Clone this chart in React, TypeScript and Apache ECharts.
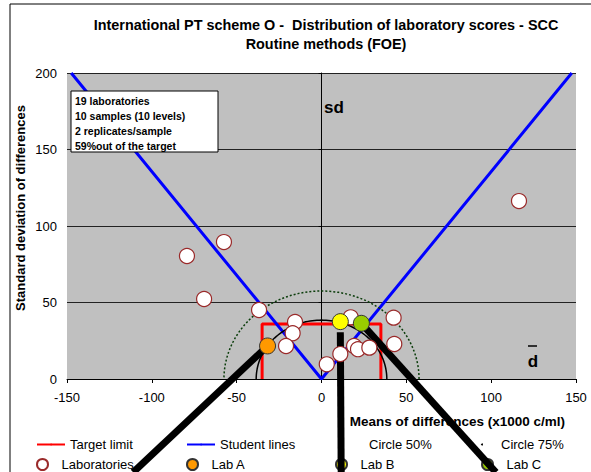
import React, { useEffect, useRef } from "react";
import * as echarts from "echarts";

// ---- data ----
const labX = [-79.3, -57.5, -69.2, -36.8, -15.6, -17.0, -20.9, 3.1, 11.1, 17.2, 19.2, 21.5, 28.2, 42.5, 42.9, 116.4];
const labY = [80.4, 89.5, 52.3, 45.1, 37.3, 29.9, 21.6, 9.6, 16.3, 40.3, 21.6, 19.5, 20.5, 40.1, 22.9, 116.3];
const labA = [-31.8, 21.6];
const labB = [11.1, 37.5];
const labC = [23.5, 36.4];
// callout line far ends (data units, outside the plot)
const calloutA = [-111, -61];
const calloutB = [11.6, -61];
const calloutC = [102.8, -61];
const targetX = 35;
const targetY = 36;
const studentX = [-147.5, 0, 147.5];
const studentY = [200, 0, 200];
const circle50R = 38.5;
const circle75R = 57.5;
const xTicks = [-150, -100, -50, 0, 50, 100, 150];
const yTicks = [0, 50, 100, 150, 200];
const infoLines = ["19 laboratories", "10 samples (10 levels)", "2 replicates/sample", "59%out of the target"];

const FONT = "'Liberation Sans', Arial, sans-serif";

function semicircle(r: number) {
  const pts: number[][] = [];
  for (let a = 0; a <= 180; a += 2) {
    const t = (a * Math.PI) / 180;
    pts.push([r * Math.cos(t), r * Math.sin(t)]);
  }
  return pts;
}

export default function App() {
  const ref = useRef<HTMLDivElement>(null);
  useEffect(() => {
    if (!ref.current) return;
    const chart = echarts.init(ref.current, null, { renderer: "svg" });
    const legendText = { fontFamily: FONT, fontSize: 13, color: "#000" };
    const mkLegend = (name: string, left: number, top: number, extra: any = {}) => ({
      left,
      top,
      orient: "horizontal",
      itemWidth: 28,
      itemHeight: extra.itemHeight ?? 2,
      itemGap: 5,
      selectedMode: false,
      textStyle: legendText,
      data: [Object.assign({ name }, extra.item || {})],
    });
    const option: any = {
      animation: false,
      backgroundColor: "#fff",
      title: {
        text: "International PT scheme O -  Distribution of laboratory scores - SCC\nRoutine methods (FOE)",
        left: 321,
        top: 10,
        textAlign: "center",
        textStyle: { fontFamily: FONT, fontSize: 14.4, fontWeight: "bold", lineHeight: 19, color: "#000" },
      },
      grid: {
        left: 67,
        right: 15,
        top: 73,
        bottom: 93,
        show: true,
        backgroundColor: "#C0C0C0",
        borderWidth: 0,
      },
      legend: [
        mkLegend("Target limit", 31, 433),
        mkLegend("Student lines", 181, 433),
        mkLegend("Circle 50%", 330, 433, { item: { lineStyle: { opacity: 0 }, itemStyle: { opacity: 0 } } }),
        mkLegend("Circle 75%", 476, 433, { item: { icon: "circle", itemStyle: { color: "#000" } } }),
        mkLegend("Laboratories", 31, 453, { itemHeight: 11, item: { icon: "circle" } }),
        mkLegend("Lab A", 181, 453, { itemHeight: 11, item: { icon: "circle" } }),
        mkLegend("Lab B", 330, 453, { itemHeight: 11, item: { icon: "circle" } }),
        mkLegend("Lab C", 476, 453, { itemHeight: 11, item: { icon: "circle" } }),
      ],
      xAxis: {
        type: "value",
        min: xTicks[0],
        max: xTicks[xTicks.length - 1],
        interval: 50,
        axisLine: { show: true, onZero: false, lineStyle: { color: "#000", width: 1 } },
        axisTick: { show: true, length: 4, lineStyle: { color: "#000" } },
        axisLabel: { fontFamily: FONT, fontSize: 13, color: "#000", margin: 12 },
        splitLine: { show: false },
      },
      yAxis: [
        {
          type: "value",
          min: yTicks[0],
          max: yTicks[yTicks.length - 1],
          interval: 50,
          axisLine: { show: false },
          axisTick: { show: false },
          axisLabel: { fontFamily: FONT, fontSize: 13, color: "#000", margin: 10 },
          splitLine: { show: true, lineStyle: { color: "#222", width: 1 } },
        },
        {
          type: "value",
          min: yTicks[0],
          max: yTicks[yTicks.length - 1],
          interval: 50,
          position: "left",
          offset: -254.5,
          axisLine: { show: true, onZero: false, lineStyle: { color: "#000", width: 1 } },
          axisTick: { show: true, length: 3, lineStyle: { color: "#000" } },
          axisLabel: { show: false },
          splitLine: { show: false },
        },
      ],
      series: [
        {
          name: "Target limit",
          type: "line",
          symbol: "none",
          z: 3,
          data: [[-targetX, 0], [-targetX, targetY], [targetX, targetY], [targetX, 0]],
          lineStyle: { color: "#FF0000", width: 3 },
          itemStyle: { color: "#FF0000" },
        },
        {
          name: "Student lines",
          type: "line",
          symbol: "none",
          z: 3,
          data: studentX.map((x, i) => [x, studentY[i]]),
          lineStyle: { color: "#0000FF", width: 3 },
          itemStyle: { color: "#0000FF" },
        },
        {
          name: "Circle 50%",
          type: "line",
          symbol: "none",
          z: 3,
          data: semicircle(circle50R),
          lineStyle: { color: "#000", width: 1.5 },
          itemStyle: { color: "#000" },
        },
        {
          name: "Circle 75%",
          type: "line",
          symbol: "none",
          z: 3,
          data: semicircle(circle75R),
          lineStyle: { color: "#0B3D0B", width: 1.5, type: [2, 2] },
          itemStyle: { color: "#000" },
        },
        {
          name: "callouts",
          type: "lines",
          coordinateSystem: "cartesian2d",
          z: 5,
          silent: true,
          clip: false,
          lineStyle: { color: "#000", width: 7, opacity: 1 },
          data: [
            { coords: [labA, calloutA] },
            { coords: [[labB[0], labB[1] - 7], calloutB] },
            { coords: [labC, calloutC] },
          ],
        },
        {
          name: "Laboratories",
          type: "scatter",
          symbol: "circle",
          symbolSize: 15,
          z: 6,
          data: labX.map((x, i) => [x, labY[i]]),
          itemStyle: { color: "#FFFFFF", borderColor: "#9A2A2A", borderWidth: 1.2, opacity: 1 },
        },
        {
          name: "Lab A",
          type: "scatter",
          symbol: "circle",
          symbolSize: 16,
          z: 7,
          data: [labA],
          itemStyle: { color: "#FF9900", borderColor: "#333", borderWidth: 1, opacity: 1 },
        },
        {
          name: "Lab B",
          type: "scatter",
          symbol: "circle",
          symbolSize: 16,
          z: 7,
          data: [labB],
          itemStyle: { color: "#FFFF00", borderColor: "#333", borderWidth: 1, opacity: 1 },
        },
        {
          name: "Lab C",
          type: "scatter",
          symbol: "circle",
          symbolSize: 16,
          z: 7,
          data: [labC],
          itemStyle: { color: "#99CC00", borderColor: "#333", borderWidth: 1, opacity: 1 },
        },
      ],
      graphic: [
        {
          type: "rect",
          silent: true,
          z: -1,
          shape: { x: 10, y: 4, width: 900, height: 900 },
          style: { fill: "none", stroke: "#000", lineWidth: 1 },
        },
        {
          type: "rect",
          z: 100,
          shape: { x: 71, y: 91, width: 147, height: 61 },
          style: { fill: "#fff", stroke: "#000", lineWidth: 1 },
        },
        ...infoLines.map((t, i) => ({
          type: "text",
          z: 101,
          x: 75,
          y: 101 + i * 15,
          style: {
            text: t,
            fontFamily: FONT,
            fontSize: 10.5,
            fontWeight: "bold",
            fill: "#000",
            verticalAlign: "middle",
          },
        })),
        {
          type: "text",
          z: 100,
          x: 334,
          y: 107,
          style: { text: "sd", fontFamily: FONT, fontSize: 17, fontWeight: "bold", fill: "#000", align: "center", verticalAlign: "middle" },
        },
        {
          type: "text",
          z: 100,
          x: 533,
          y: 361,
          style: { text: "d", fontFamily: FONT, fontSize: 17, fontWeight: "bold", fill: "#000", align: "center", verticalAlign: "middle" },
        },
        {
          type: "line",
          z: 100,
          shape: { x1: 528, y1: 346, x2: 537, y2: 346 },
          style: { stroke: "#000", lineWidth: 1.5 },
        },
        {
          type: "text",
          z: 100,
          x: 565,
          y: 421,
          style: {
            text: "Means of differences (x1000 c/ml)",
            fontFamily: FONT,
            fontSize: 13.5,
            fontWeight: "bold",
            fill: "#000",
            align: "right",
            verticalAlign: "middle",
          },
        },
        {
          type: "text",
          z: 100,
          x: 20,
          y: 208,
          rotation: Math.PI / 2,
          style: {
            text: "Standard deviation of differences",
            fontFamily: FONT,
            fontSize: 13,
            fontWeight: "bold",
            fill: "#000",
            align: "center",
            verticalAlign: "middle",
          },
        },
      ],
    };
    chart.setOption(option);
    return () => chart.dispose();
  }, []);
  return <div ref={ref} style={{ position: "absolute", left: 0, top: 0, width: 591, height: 472 }} />;
}
